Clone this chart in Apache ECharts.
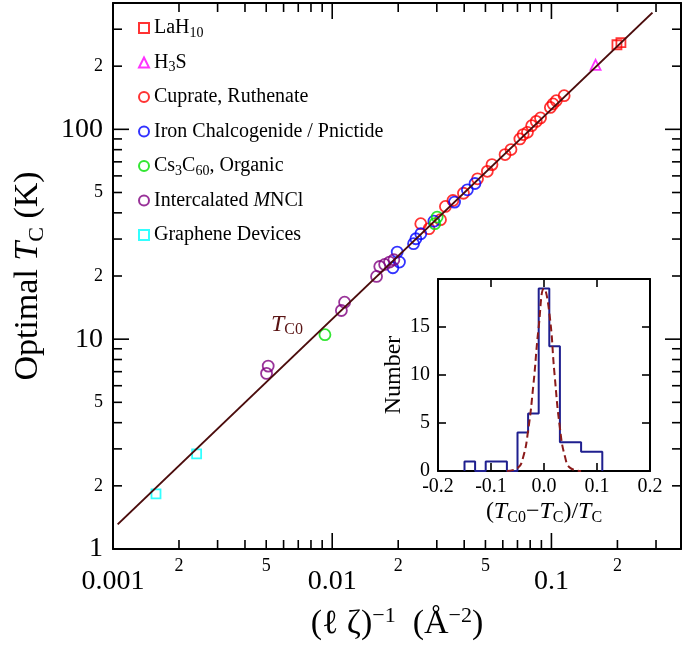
<!DOCTYPE html>
<html><head><meta charset="utf-8">
<script src="https://cdn.jsdelivr.net/npm/echarts@6/dist/echarts.min.js"></script>
<style>html,body{margin:0;padding:0;background:#fff}#c{width:685px;height:648px}</style>
</head><body><div id="c"></div>
<script>
const FONT = "'Liberation Serif','DejaVu Serif','Times New Roman',serif";

// ---- main plot data: [ (l*zeta)^-1 (A^-2), optimal Tc (K) ] ----
const lah10 = [[0.199, 253], [0.2075, 259]];
const h3s = [[0.159, 203]];
const cuprate = [
  [0.02535, 35.5], [0.02763, 33.6], [0.03119, 37.1], [0.03284, 42.9], [0.03552, 45.8],
  [0.03969, 49.6], [0.04601, 58.1], [0.05101, 63.1], [0.05356, 67.9], [0.06145, 75.8],
  [0.06539, 80.1], [0.07178, 90.0], [0.07432, 94.4], [0.07774, 96.8], [0.08124, 104.1],
  [0.08528, 109.1], [0.08916, 113.3], [0.09888, 127.2], [0.1017, 132.1], [0.1052, 136.9],
  [0.1143, 144.6]
];
const iron = [
  [0.01891, 21.9], [0.02026, 23.3], [0.01979, 26.0], [0.02349, 28.5], [0.02408, 30.1],
  [0.02535, 31.8], [0.0291, 36.5], [0.03615, 45.0], [0.04135, 51.5], [0.04479, 55.2]
];
const organic = [[0.009264, 10.5], [0.03012, 38.2], [0.02939, 35.5]];
const mncl = [
  [0.005017, 6.87], [0.005105, 7.44], [0.01101, 13.7], [0.01139, 15.0],
  [0.01593, 19.9], [0.01648, 22.2], [0.01735, 22.7], [0.01827, 23.3], [0.01911, 23.9]
];
const graphene = [[0.001571, 1.83], [0.002407, 2.84]];
const fitLine = [[0.00105, 1.31], [0.289, 360]];

// ---- tick values ----
const xMajorTicks = [0.001, 0.01, 0.1];
const xMinorTicks = [0.002, 0.003, 0.004, 0.005, 0.006, 0.007, 0.008, 0.009,
  0.02, 0.03, 0.04, 0.05, 0.06, 0.07, 0.08, 0.09, 0.2, 0.3];
const xMinorLabels = [0.002, 0.005, 0.02, 0.05, 0.2];
const yMajorTicks = [1, 10, 100];
const yMinorTicks = [2, 3, 4, 5, 6, 7, 8, 9, 20, 30, 40, 50, 60, 70, 80, 90, 200, 300];
const yMinorLabels = [2, 5, 20, 50, 200];
const insetXTicks = [-0.1, 0.0, 0.1];
const insetYTicks = [5, 10, 15];

// ---- inset histogram ----
const histEdges = [-0.15, -0.13, -0.11, -0.09, -0.07, -0.05, -0.03, -0.01, 0.01, 0.03, 0.05, 0.07, 0.09, 0.11];
const histCounts = [1, 0, 1, 1, 0, 4, 6, 19, 13, 3, 3, 2, 2];
const fitCurveX = [-0.07, -0.05, -0.04, -0.03, -0.02, -0.01, 0.0, 0.01, 0.02, 0.03, 0.04, 0.05, 0.07];
const fitCurveY = [0, 0.3, 1.3, 4.2, 9, 15, 19, 16.5, 10, 4.5, 1.4, 0.3, 0];

const histLine = [[histEdges[0], 0]];
histCounts.forEach((c, i) => { histLine.push([histEdges[i], c], [histEdges[i + 1], c]); });
histLine.push([histEdges[histEdges.length - 1], 0]);
const fitCurve = fitCurveX.map((x, i) => [x, fitCurveY[i]]);

const mantissa = v => String(Math.round(v / Math.pow(10, Math.floor(Math.log10(v) + 1e-9))));

const black = '#000';
function baseAxis(type, grid, pos, min, max) {
  return { type, gridIndex: grid, position: pos, min, max, splitLine: { show: false },
    axisLine: { show: false, onZero: false }, axisTick: { show: false }, axisLabel: { show: false } };
}
function mainX(pos, major, withLabels) {
  const a = baseAxis('log', 0, pos, 0.001, 0.39);
  a.axisLine = { show: major, onZero: false, lineStyle: { color: black, width: 2 } };
  if (withLabels) {
    a.axisLabel = major
      ? { show: true, customValues: xMajorTicks, fontFamily: FONT, fontSize: 28, color: black, margin: 19, formatter: v => String(v) }
      : { show: true, customValues: xMinorLabels, fontFamily: FONT, fontSize: 18, color: black, margin: 8, formatter: v => mantissa(v) };
  }
  return a;
}
function mainY(pos, major, withLabels) {
  const a = baseAxis('log', 0, pos, 1, 400);
  a.axisLine = { show: major, onZero: false, lineStyle: { color: black, width: 2 } };
  if (withLabels) {
    a.axisLabel = major
      ? { show: true, customValues: yMajorTicks, fontFamily: FONT, fontSize: 28, color: black, margin: 10, formatter: v => String(v) }
      : { show: true, customValues: yMinorLabels, fontFamily: FONT, fontSize: 18, color: black, margin: 10, formatter: v => mantissa(v) };
  }
  return a;
}

const xBottom = mainX('bottom', true, true);
xBottom.name = '(ℓ ζ){sup|−1}  (Å{sup|−2})';
xBottom.nameLocation = 'middle';
xBottom.nameGap = 56;
xBottom.nameTextStyle = { fontFamily: FONT, fontSize: 34, color: black, lineHeight: 38,
  rich: { sup: { fontFamily: FONT, fontSize: 22, color: black, verticalAlign: 'top', lineHeight: 20 } } };

const yLeft = mainY('left', true, true);
yLeft.name = 'Optimal {it|T}{sub|C} (K)';
yLeft.nameLocation = 'middle';
yLeft.nameRotate = 90;
yLeft.nameGap = 65;
yLeft.nameTextStyle = { fontFamily: FONT, fontSize: 34, color: black, lineHeight: 40,
  rich: { it: { fontFamily: FONT, fontSize: 34, fontStyle: 'italic', color: black },
          sub: { fontFamily: FONT, fontSize: 22, color: black, verticalAlign: 'bottom', lineHeight: 20 } } };

function insetAxis(dim, pos, withLabels) {
  const isX = dim === 'x';
  const a = baseAxis('value', 1, pos, isX ? -0.2 : 0, isX ? 0.2 : 20);
  a.interval = isX ? 0.1 : 5;
  a.axisLine = { show: true, onZero: false, lineStyle: { color: black, width: 2 } };
  if (withLabels) {
    a.axisLabel = { show: true, fontFamily: FONT, fontSize: 20, color: black, margin: isX ? 6 : 8,
      formatter: isX ? (v => Math.abs(v) < 1e-9 ? '0.0' : v.toFixed(1)) : (v => v >= 20 ? '' : String(v)) };
  }
  return a;
}
const ixBottom = insetAxis('x', 'bottom', true);
ixBottom.name = '({it|T}{sub|C0}−{it|T}{sub|C})/{it|T}{sub|C}';
ixBottom.nameLocation = 'middle';
ixBottom.nameGap = 27;
ixBottom.nameTextStyle = { fontFamily: FONT, fontSize: 24, color: black, lineHeight: 28,
  rich: { it: { fontFamily: FONT, fontSize: 24, fontStyle: 'italic', color: black },
          sub: { fontFamily: FONT, fontSize: 16, color: black, verticalAlign: 'bottom', lineHeight: 16 } } };
const iyLeft = insetAxis('y', 'left', true);
iyLeft.name = 'Number';
iyLeft.nameLocation = 'middle';
iyLeft.nameRotate = 90;
iyLeft.nameGap = 32;
iyLeft.nameTextStyle = { fontFamily: FONT, fontSize: 24, color: black };

const hollow = (name, data, symbol, size, color) => ({
  name, type: 'scatter', data, symbol, symbolSize: size, xAxisIndex: 0, yAxisIndex: 0,
  itemStyle: { color: 'rgba(0,0,0,0)', borderColor: color, borderWidth: 1.8 }
});

// tick marks drawn through the axes' own scales (custom series), mirrored on both sides
const TICK_STYLE = { stroke: '#000', lineWidth: 1.6, fill: null };
function tickSeries(dir, xi, yi, data, majorLen, minorLen) {
  return {
    type: 'custom', xAxisIndex: xi, yAxisIndex: yi, silent: true, clip: false, z: 6,
    data,
    renderItem: (params, api) => {
      const cs = params.coordSys;
      const p = api.coord([api.value(0), api.value(1)]);
      const len = api.value(2) ? majorLen : minorLen;
      let a, b;
      if (dir === 'x') {
        const x = p[0];
        const yb = cs.y + cs.height, yt = cs.y;
        a = [[x, yb], [x, yb - len]];
        b = [[x, yt], [x, yt + len]];
      } else {
        const y = p[1];
        const xl = cs.x, xr = cs.x + cs.width;
        a = [[xl, y], [xl + len, y]];
        b = [[xr, y], [xr - len, y]];
      }
      return { type: 'group', children: [
        { type: 'polyline', shape: { points: a }, style: TICK_STYLE },
        { type: 'polyline', shape: { points: b }, style: TICK_STYLE }
      ] };
    }
  };
}
const mainXTickData = xMajorTicks.map(v => [v, 1, 1]).concat(xMinorTicks.map(v => [v, 1, 0]));
const mainYTickData = yMajorTicks.map(v => [0.001, v, 1]).concat(yMinorTicks.map(v => [0.001, v, 0]));
const insetXTickData = insetXTicks.map(v => [v, 0, 1]);
const insetYTickData = insetYTicks.map(v => [-0.2, v, 1]);

const legendLabels = {
  'LaH10': 'LaH{sub|10}',
  'H3S': 'H{sub|3}S',
  'Cuprate, Ruthenate': 'Cuprate, Ruthenate',
  'Iron Chalcogenide / Pnictide': 'Iron Chalcogenide / Pnictide',
  'Cs3C60, Organic': 'Cs{sub|3}C{sub|60}, Organic',
  'Intercalated MNCl': 'Intercalated {it|M}NCl',
  'Graphene Devices': 'Graphene Devices'
};

const option = {
  animation: false,
  backgroundColor: '#fff',
  grid: [
    { left: 104, top: 3, width: 577, height: 546 },
    { left: 438, top: 279, width: 212, height: 192 }
  ],
  xAxis: [xBottom, mainX('bottom', false, true), mainX('top', true, false),
          ixBottom, insetAxis('x', 'top', false)],
  yAxis: [yLeft, mainY('left', false, true), mainY('right', true, false),
          iyLeft, insetAxis('y', 'right', false)],
  legend: {
    orient: 'vertical', left: 133, top: 11, padding: 5, itemWidth: 10, itemHeight: 10, itemGap: 10.5,
    data: Object.keys(legendLabels),
    formatter: name => legendLabels[name],
    textStyle: { fontFamily: FONT, fontSize: 20, color: black, lineHeight: 24,
      rich: { sub: { fontFamily: FONT, fontSize: 14, color: black, verticalAlign: 'bottom', lineHeight: 12 },
              it: { fontFamily: FONT, fontSize: 20, fontStyle: 'italic', color: black } } }
  },
  graphic: [{
    type: 'text', left: 271, top: 313,
    style: { text: '{it|T}{sub|C0}', fill: '#5a1414',
      rich: { it: { fontFamily: FONT, fontSize: 24, fontStyle: 'italic', fill: '#5a1414', lineHeight: 26 },
              sub: { fontFamily: FONT, fontSize: 16, fill: '#5a1414', verticalAlign: 'bottom', lineHeight: 14 } } }
  }],
  series: [
    { name: 'fit', type: 'line', data: fitLine, xAxisIndex: 0, yAxisIndex: 0, showSymbol: false, silent: true,
      lineStyle: { color: '#4b0c0c', width: 2 } },
    hollow('LaH10', lah10, 'rect', 9, '#ff0000'),
    hollow('H3S', h3s, 'triangle', 10, '#ff00ff'),
    hollow('Cuprate, Ruthenate', cuprate, 'circle', 11, '#ff0000'),
    hollow('Iron Chalcogenide / Pnictide', iron, 'circle', 11, '#0000ff'),
    hollow('Cs3C60, Organic', organic, 'circle', 11, '#00e000'),
    hollow('Intercalated MNCl', mncl, 'circle', 11, '#800080'),
    hollow('Graphene Devices', graphene, 'rect', 9, '#00ffff'),
    { name: 'hist', type: 'line', data: histLine, xAxisIndex: 3, yAxisIndex: 3, showSymbol: false, silent: true,
      lineStyle: { color: '#1f1f8f', width: 2 } },
    { name: 'gauss', type: 'line', data: fitCurve, smooth: true, xAxisIndex: 3, yAxisIndex: 3, showSymbol: false, silent: true,
      lineStyle: { color: '#8b1a1a', width: 2, type: [7, 4] } },
    tickSeries('x', 0, 0, mainXTickData, 16, 9),
    tickSeries('y', 0, 0, mainYTickData, 16, 9),
    tickSeries('x', 3, 3, insetXTickData, 8, 8),
    tickSeries('y', 3, 3, insetYTickData, 8, 8)
  ]
};
const chart = echarts.init(document.getElementById('c'));
chart.setOption(option);
</script></body></html>
